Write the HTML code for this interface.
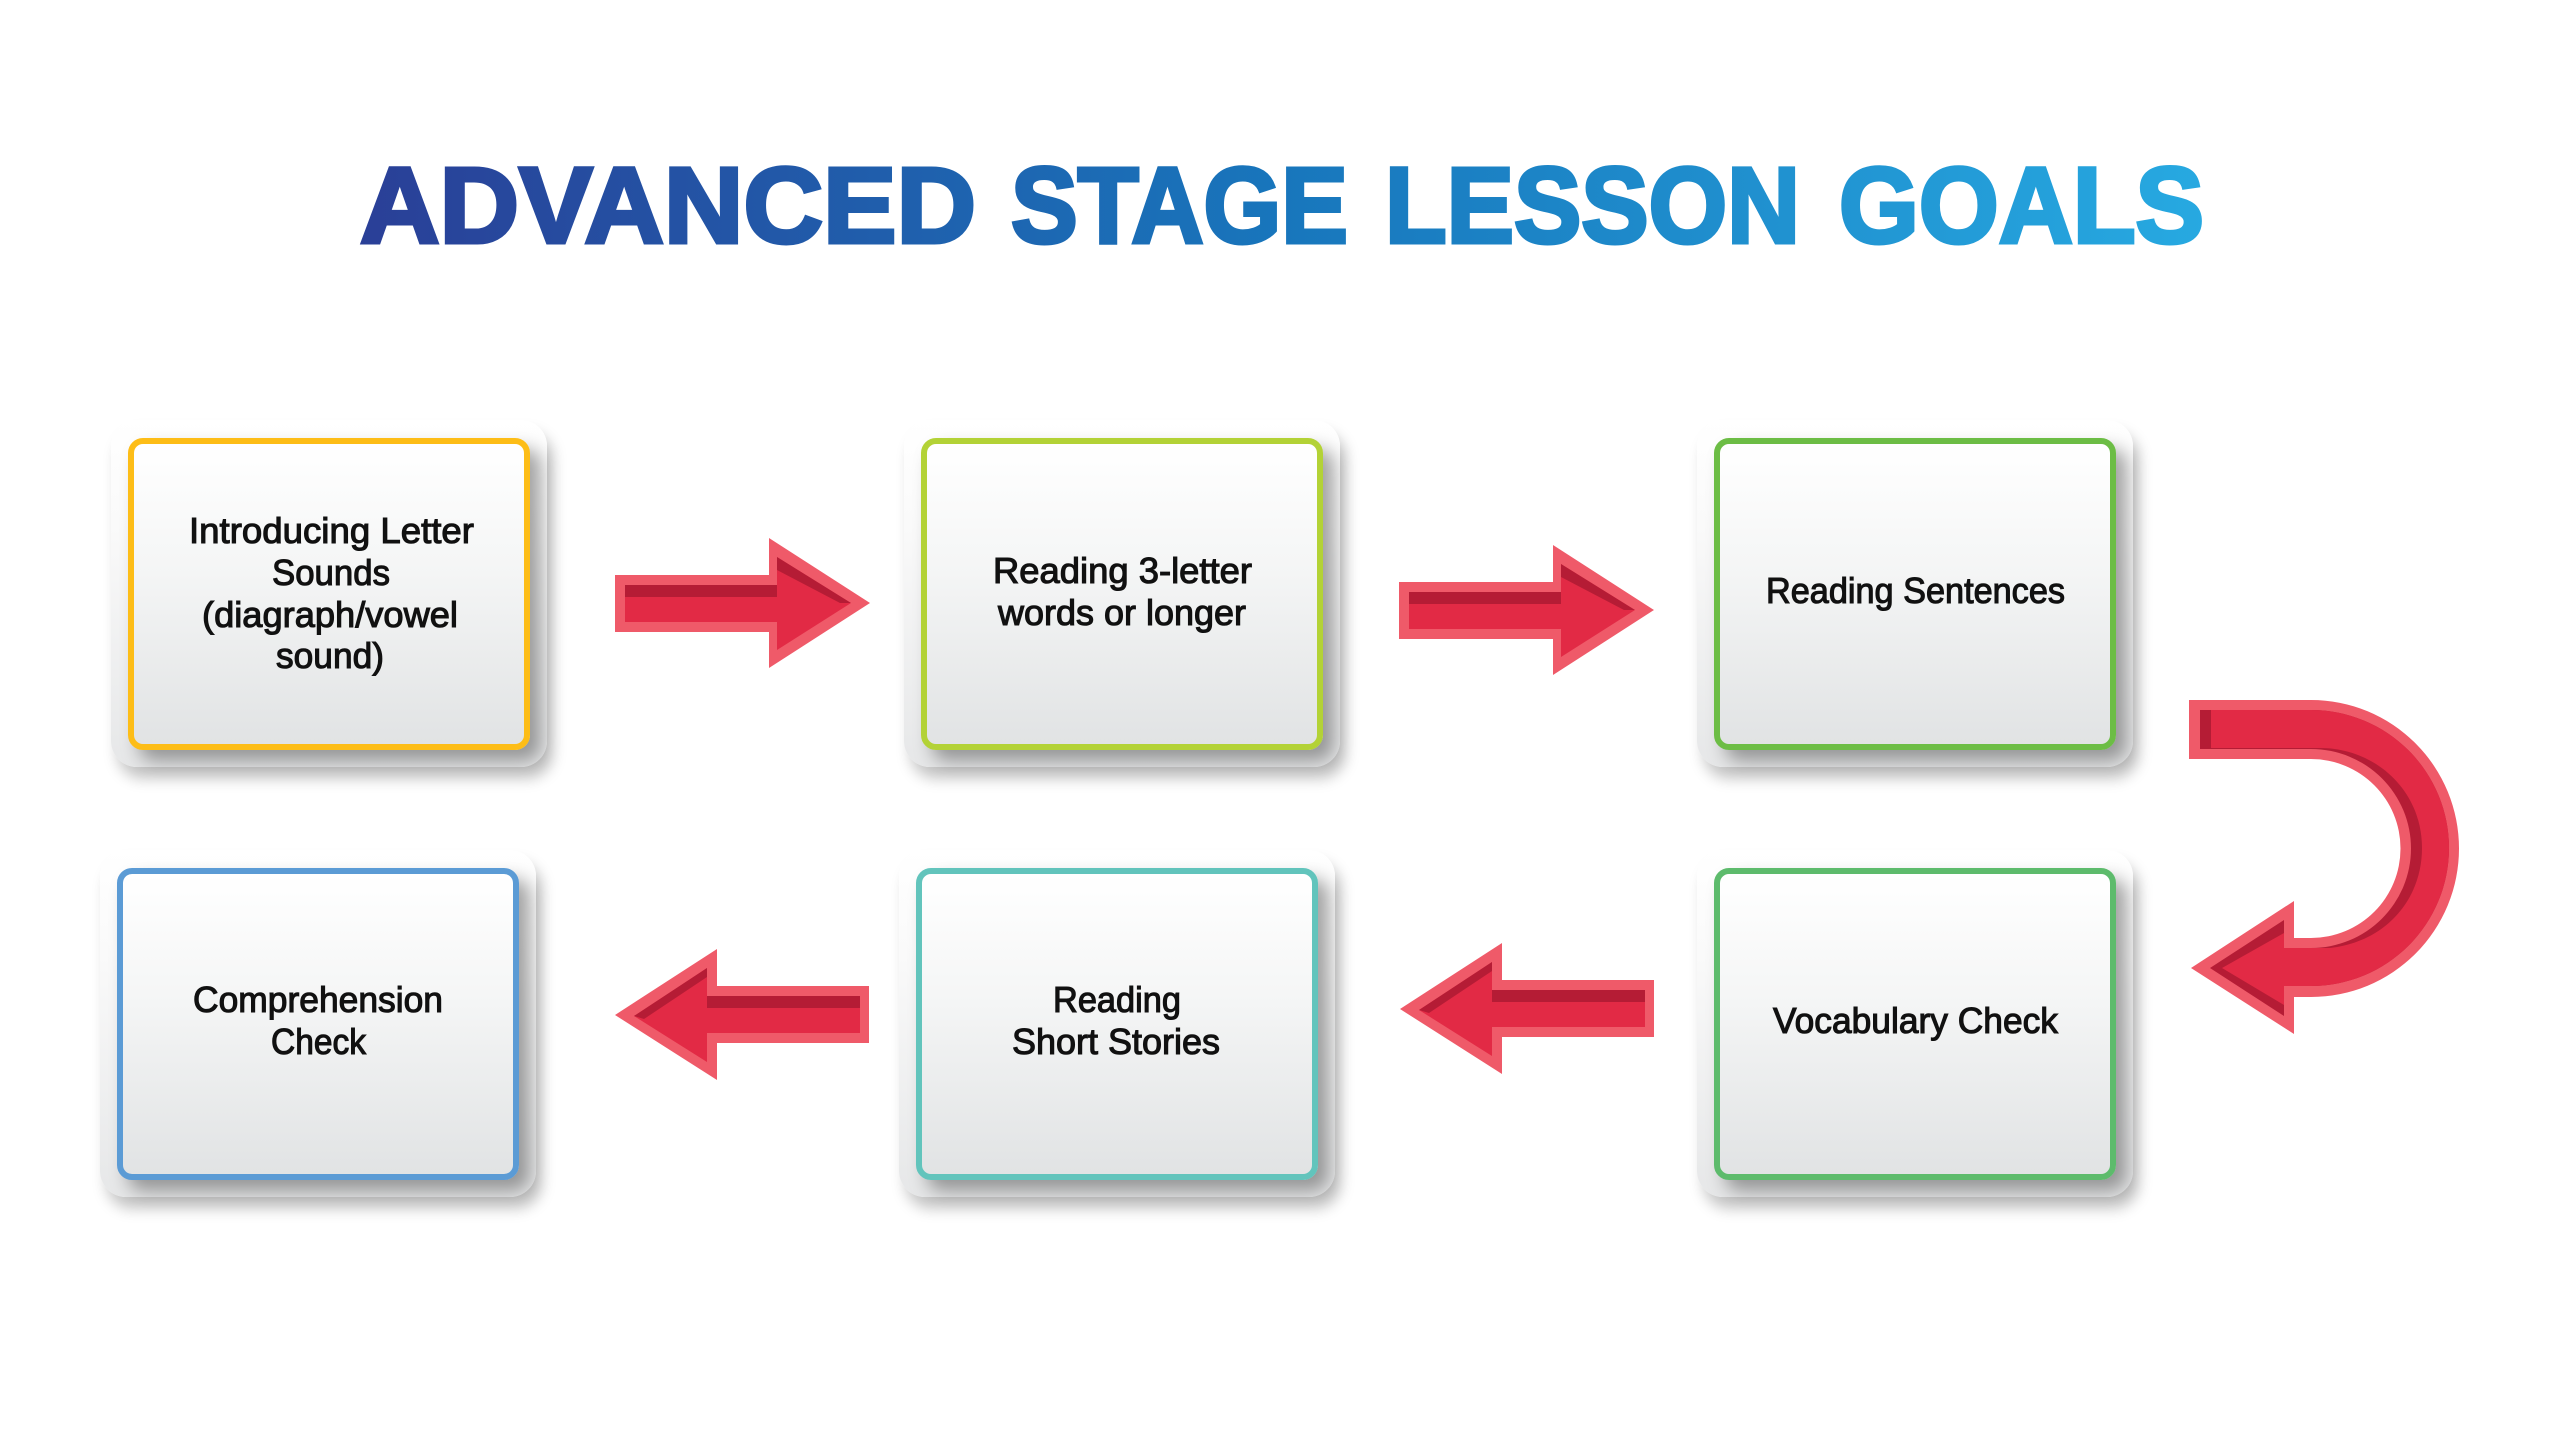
<!DOCTYPE html>
<html><head><meta charset="utf-8"><style>
html,body{margin:0;padding:0;background:#fff}
body{width:2560px;height:1440px;position:relative;overflow:hidden}
.p{position:absolute;width:436px;height:347px;border-radius:26px;background:linear-gradient(#fff 0%,#fafafa 30%,#e6e7e8 100%);box-shadow:6px 12px 14px rgba(0,0,0,.22)}
.c{position:absolute;width:402px;height:312px;box-sizing:border-box;border:6px solid;border-radius:15px;background:linear-gradient(#fff 0%,#f5f6f6 40%,#e1e3e4 100%);box-shadow:11px 11px 18px rgba(0,0,0,.36)}
svg{position:absolute;left:0;top:0}
text{font-family:"Liberation Sans",sans-serif}
.t{font-size:36px;fill:#111;stroke:#111;stroke-width:1.1px}
.h{font-size:108px;font-weight:bold;fill:url(#g);stroke:url(#g);stroke-width:4px}
</style></head><body>
<div class="p" style="left:111px;top:420px"></div><div class="c" style="left:128px;top:438px;border-color:#fdbd17"></div>
<div class="p" style="left:904px;top:420px"></div><div class="c" style="left:921px;top:438px;border-color:#b3d236"></div>
<div class="p" style="left:1697px;top:420px"></div><div class="c" style="left:1714px;top:438px;border-color:#6cbd45"></div>
<div class="p" style="left:100px;top:850px"></div><div class="c" style="left:117px;top:868px;border-color:#5b9bd5"></div>
<div class="p" style="left:899px;top:850px"></div><div class="c" style="left:916px;top:868px;border-color:#62c4bc"></div>
<div class="p" style="left:1697px;top:850px"></div><div class="c" style="left:1714px;top:868px;border-color:#5dbb6c"></div>
<svg width="2560" height="1440" viewBox="0 0 2560 1440" xmlns="http://www.w3.org/2000/svg">
<defs>
<linearGradient id="g" gradientUnits="userSpaceOnUse" x1="357" y1="0" x2="2206" y2="0"><stop offset="0" stop-color="#2a3f97"/><stop offset=".5" stop-color="#1876bc"/><stop offset="1" stop-color="#27a9e1"/></linearGradient>
<g id="ar">
<polygon fill="#ef5a69" points="615,575 769,575 769,538 870,603 769,668 769,632 615,632"/>
<polygon fill="#e22a45" points="625,585 777,585 777,557 851,603 777,650 777,622 625,622"/>
<polygon fill="#b51c35" points="625,585 777,585 777,557 851,603 840,603 777,570 777,597 625,597"/>
</g>
<g id="al">
<polygon fill="#ef5a69" points="869,986 717,986 717,949 615,1015 717,1080 717,1043 869,1043"/>
<polygon fill="#e22a45" points="860,996 707,996 707,968 634,1016 707,1062 707,1033 860,1033"/>
<polygon fill="#b51c35" points="860,996 707,996 707,968 634,1016 644,1019 707,977 707,1008 860,1008"/>
</g>
</defs>
<text class="h" x="360" y="242.5" textLength="616" lengthAdjust="spacingAndGlyphs">ADVANCED</text>
<text class="h" x="1011" y="242.5" textLength="337" lengthAdjust="spacingAndGlyphs">STAGE</text>
<text class="h" x="1385" y="242.5" textLength="415" lengthAdjust="spacingAndGlyphs">LESSON</text>
<text class="h" x="1839" y="242.5" textLength="365" lengthAdjust="spacingAndGlyphs">GOALS</text>
<use href="#ar"/>
<use href="#ar" x="784" y="7"/>
<use href="#al"/>
<use href="#al" x="785" y="-6"/>
<path fill="#ef5a69" d="M2189,700 H2311 A148,148.5 0 0 1 2311,997 H2294 V1034 L2191,968 L2294,901 V938 H2311 A89.5,89.5 0 0 0 2311,759 H2189 Z"/>
<path fill="#b51c35" d="M2200,710 H2311 A138,138 0 0 1 2311,986 H2284 V1016 L2210,968 L2284,920 V948 H2311 A99.5,99 0 0 0 2311,749 H2200 Z"/>
<path fill="#e22a45" d="M2211,710 H2311 A138,138 0 0 1 2311,986 H2284 V1005 L2222,968 L2284,933 V948 H2330 C2385,942 2422,900 2422,848 C2422,790 2375,748 2320,748 H2211 Z"/>
<text class="t" x="189" y="543" textLength="285" lengthAdjust="spacingAndGlyphs">Introducing Letter</text>
<text class="t" x="272" y="585" textLength="118" lengthAdjust="spacingAndGlyphs">Sounds</text>
<text class="t" x="202" y="627" textLength="256" lengthAdjust="spacingAndGlyphs">(diagraph/vowel</text>
<text class="t" x="276" y="668" textLength="108" lengthAdjust="spacingAndGlyphs">sound)</text>
<text class="t" x="993" y="583" textLength="259" lengthAdjust="spacingAndGlyphs">Reading 3-letter</text>
<text class="t" x="998" y="625" textLength="248" lengthAdjust="spacingAndGlyphs">words or longer</text>
<text class="t" x="1766" y="603" textLength="299" lengthAdjust="spacingAndGlyphs">Reading Sentences</text>
<text class="t" x="193" y="1012" textLength="250" lengthAdjust="spacingAndGlyphs">Comprehension</text>
<text class="t" x="271" y="1054" textLength="95" lengthAdjust="spacingAndGlyphs">Check</text>
<text class="t" x="1053" y="1012" textLength="128" lengthAdjust="spacingAndGlyphs">Reading</text>
<text class="t" x="1012" y="1054" textLength="208" lengthAdjust="spacingAndGlyphs">Short Stories</text>
<text class="t" x="1773" y="1033" textLength="285" lengthAdjust="spacingAndGlyphs">Vocabulary Check</text>
</svg>
</body></html>
